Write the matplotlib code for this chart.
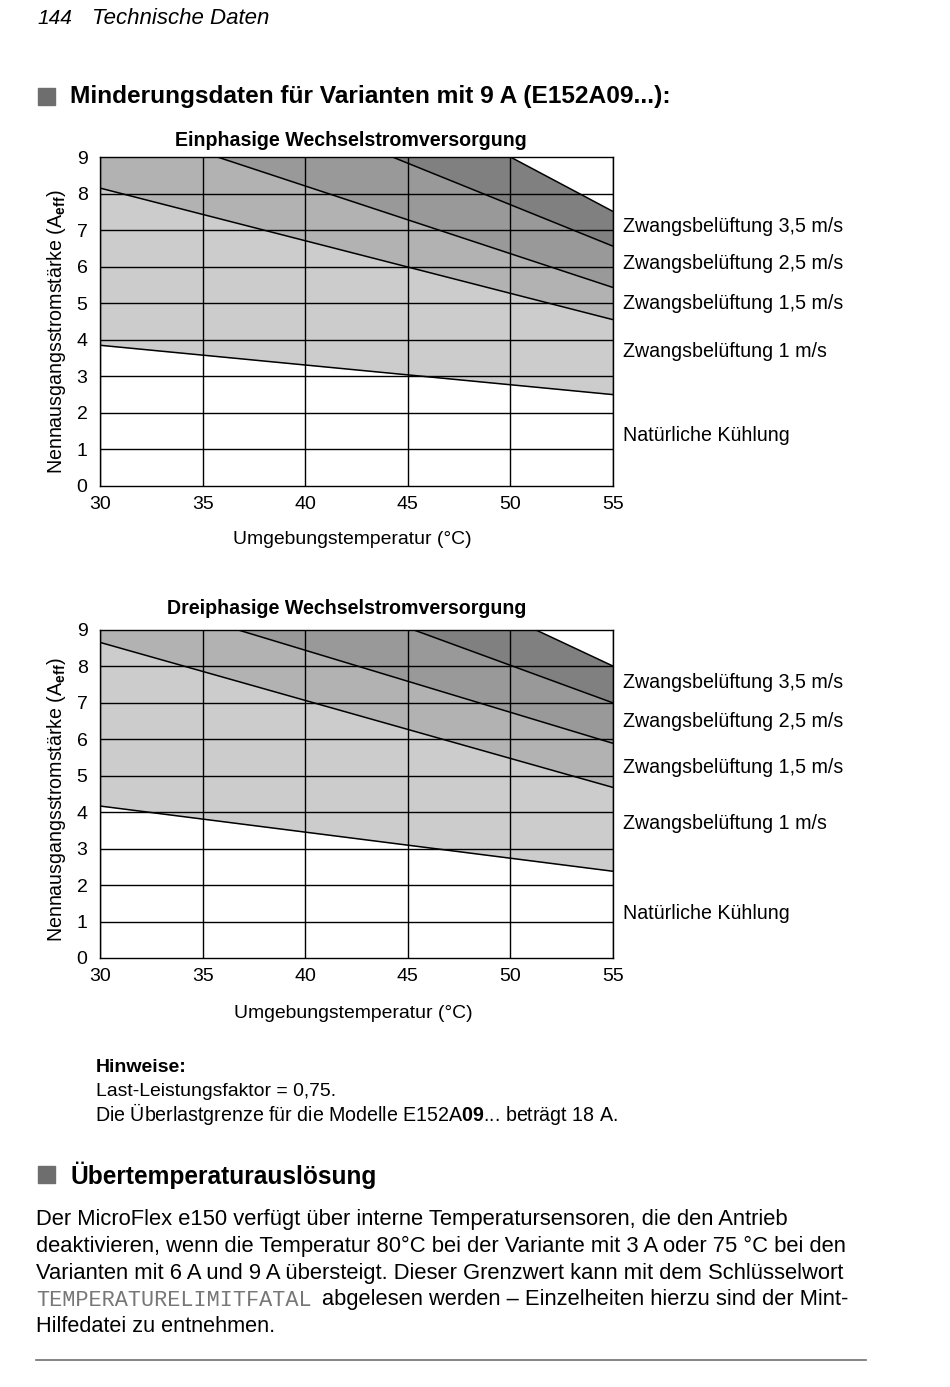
import matplotlib
matplotlib.use('Agg')
import matplotlib.pyplot as plt
import numpy as np
from matplotlib.patches import Rectangle
from matplotlib.lines import Line2D
import matplotlib.transforms as mtransforms

plt.rcParams['font.family'] = ['Liberation Sans', 'DejaVu Sans']
plt.rcParams['mathtext.fontset'] = 'custom'
plt.rcParams['mathtext.rm'] = 'Liberation Sans'
plt.rcParams['mathtext.bf'] = 'Liberation Sans:bold'
plt.rcParams['mathtext.it'] = 'Liberation Sans:italic'

# ---------------- data ----------------
temp_ticks = [30, 35, 40, 45, 50, 55]
current_ticks = [0, 1, 2, 3, 4, 5, 6, 7, 8, 9]
region_labels = ["Zwangsbelüftung 3,5 m/s", "Zwangsbelüftung 2,5 m/s",
                 "Zwangsbelüftung 1,5 m/s", "Zwangsbelüftung 1 m/s",
                 "Natürliche Kühlung"]

# Einphasig: boundary lines (temperature, current)
e_nat_x = [30, 55];           e_nat_y = [3.85, 2.50]
e_1_x = [30, 55];             e_1_y = [8.15, 4.55]
e_15_x = [30, 35.72, 55];     e_15_y = [9.0, 9.0, 5.43]
e_25_x = [30, 44.25, 55];     e_25_y = [9.0, 9.0, 6.56]
e_35_x = [30, 50, 55];        e_35_y = [9.0, 9.0, 7.51]
e_label_y = [7.11, 6.10, 5.00, 3.67, 1.37]

# Dreiphasig
d_nat_x = [30, 55];           d_nat_y = [4.17, 2.38]
d_1_x = [30, 55];             d_1_y = [8.66, 4.68]
d_15_x = [30, 36.74, 55];     d_15_y = [9.0, 9.0, 5.89]
d_25_x = [30, 45.3, 55];      d_25_y = [9.0, 9.0, 7.00]
d_35_x = [30, 51.25, 55];     d_35_y = [9.0, 9.0, 8.01]
d_label_y = [7.55, 6.50, 5.24, 3.70, 1.21]

fill_colors = ['#cccccc', '#b2b2b2', '#999999', '#808080']

W, H = 950, 1387
fig = plt.figure(figsize=(W / 100, H / 100), dpi=100)
renderer = fig.canvas.get_renderer()


def fx(p):
    return p / W


def fy(p):
    return 1 - p / H


def fit(t, target, vertical=False):
    bb = t.get_window_extent(renderer)
    cur = bb.height if vertical else bb.width
    t.set_fontsize(t.get_fontsize() * target / cur)
    return t


def ftext(x, y, s, target=None, vertical=False, **kw):
    kw.setdefault('va', 'center')
    kw.setdefault('fontsize', 14)
    t = fig.text(fx(x), fy(y), s, **kw)
    if target is not None:
        fit(t, target, vertical)
    return t


def draw_chart(top_px, bottom_px, bounds, label_y, title, title_c, title_y, title_w,
               ylab_c, xlab_c, xlab_y):
    ax = fig.add_axes([fx(100), fy(bottom_px), 513 / W, (bottom_px - top_px) / H])
    xs = np.union1d(np.union1d(bounds[0][0], bounds[2][0]),
                    np.union1d(bounds[3][0], bounds[4][0]))
    ys = [np.interp(xs, bx, by) for bx, by in bounds]
    for i in range(4):
        ax.fill_between(xs, ys[i], ys[i + 1], color=fill_colors[i], lw=0, zorder=1)
    for t in temp_ticks:
        ax.axvline(t, color='black', lw=1.0, zorder=2)
    for c in current_ticks[1:-1]:
        ax.axhline(c, color='black', lw=1.0, zorder=2)
    for bx, by in bounds:
        ax.plot(bx, by, color='black', lw=1.1, zorder=3, solid_capstyle='butt')
    ax.set_xlim(30, 55)
    ax.set_ylim(0, 9)
    ax.set_xticks(temp_ticks)
    ax.set_yticks(current_ticks)
    ax.tick_params(length=0, labelsize=14, pad=9)
    ax.tick_params(axis='x', pad=7)
    for sp in ax.spines.values():
        sp.set_linewidth(1.0)
        sp.set_zorder(4)
    tr = mtransforms.blended_transform_factory(ax.transAxes, ax.transData)
    size = None
    for lab, yv in zip(region_labels, label_y):
        t = ax.text(1.0195, yv, lab, transform=tr, va='center', ha='left', fontsize=14)
        if size is None:
            fit(t, 220)
            size = t.get_fontsize()
        else:
            t.set_fontsize(size)
    ftext(title_c, title_y, title, target=title_w, ha='center', fontweight='bold')
    ftext(57, ylab_c, r"Nennausgangsstromstärke (A$_{\mathbf{eff}}$)", target=285,
          vertical=True, ha='center', rotation=90)
    ftext(xlab_c, xlab_y, "Umgebungstemperatur (°C)", target=240, ha='center')
    return ax


draw_chart(157, 486,
           [(e_nat_x, e_nat_y), (e_1_x, e_1_y), (e_15_x, e_15_y),
            (e_25_x, e_25_y), (e_35_x, e_35_y)],
           e_label_y, "Einphasige Wechselstromversorgung", 351, 140, 352, 332, 352, 540)
draw_chart(630, 958,
           [(d_nat_x, d_nat_y), (d_1_x, d_1_y), (d_15_x, d_15_y),
            (d_25_x, d_25_y), (d_35_x, d_35_y)],
           d_label_y, "Dreiphasige Wechselstromversorgung", 347, 608, 360, 800, 353, 1013)

# ---------------- page text ----------------
ftext(37, 19, "144", target=35, style='italic')
ftext(92, 19, "Technische Daten", target=178, style='italic')

fig.patches.append(Rectangle((fx(38), fy(105)), 17 / W, 17 / H, transform=fig.transFigure,
                             color='#6e6e6e', figure=fig))
ftext(70, 97, "Minderungsdaten für Varianten mit 9 A (E152A09...):", target=603,
      fontweight='bold')

ftext(96, 1068, "Hinweise:", target=91, fontweight='bold')
ftext(96, 1091, "Last-Leistungsfaktor = 0,75.", target=242)
ftext(95, 1114, r"Die Überlastgrenze für die Modelle E152A$\mathbf{09}$... beträgt 18 A.",
      target=524)

fig.patches.append(Rectangle((fx(38), fy(1183)), 17 / W, 17 / H, transform=fig.transFigure,
                             color='#6e6e6e', figure=fig))
ftext(70, 1175, "Übertemperaturauslösung", target=308, fontweight='bold')

ftext(36, 1219, "Der MicroFlex e150 verfügt über interne Temperatursensoren, die den Antrieb",
      target=760)
ftext(36, 1246, "deaktivieren, wenn die Temperatur 80°C bei der Variante mit 3 A oder 75 °C bei den",
      target=817)
ftext(36, 1273, "Varianten mit 6 A und 9 A übersteigt. Dieser Grenzwert kann mit dem Schlüsselwort",
      target=815)
ftext(36, 1300, "TEMPERATURELIMITFATAL", target=278, family='Liberation Mono', color='#777777')
ftext(322, 1300, "abgelesen werden – Einzelheiten hierzu sind der Mint-", target=531)
ftext(36, 1327, "Hilfedatei zu entnehmen.", target=241)

fig.add_artist(Line2D([fx(36), fx(866)], [fy(1360), fy(1360)], transform=fig.transFigure,
                      color='#707070', lw=1.2))

fig.savefig('out.png', dpi=100)
